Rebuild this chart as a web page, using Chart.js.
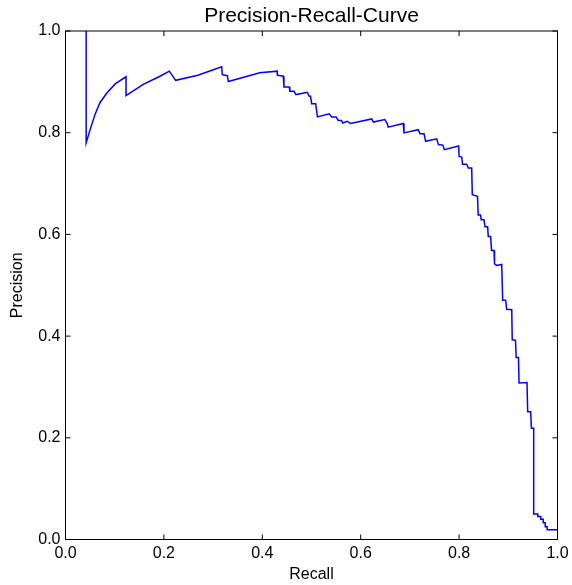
<!DOCTYPE html>
<html>
<head>
<meta charset="utf-8">
<script src="https://cdn.jsdelivr.net/npm/chart.js@4"></script>
<style>
  html, body { margin: 0; padding: 0; background: #fff; }
  #wrap { width: 572px; height: 585px; }
</style>
</head>
<body>
<div id="wrap"><canvas id="pr"></canvas></div>
<script>
// values
const recall = [0.042, 0.042, 0.050, 0.060, 0.070, 0.084, 0.101, 0.123, 0.123, 0.158,
  0.192, 0.211, 0.224, 0.269, 0.3175, 0.3187, 0.329, 0.331, 0.395, 0.4305,
  0.4305, 0.4427, 0.444, 0.455, 0.456, 0.4644, 0.4685, 0.4915, 0.4955, 0.498,
  0.5004, 0.5085, 0.512, 0.536, 0.541, 0.550, 0.5545, 0.561, 0.5634, 0.5728,
  0.5797, 0.6224, 0.6256, 0.649, 0.654, 0.656, 0.6866, 0.688, 0.717, 0.7205,
  0.7287, 0.732, 0.7545, 0.758, 0.767, 0.770, 0.799, 0.800, 0.8053, 0.807,
  0.8154, 0.8187, 0.8256, 0.8268, 0.8374, 0.8388, 0.8435, 0.845, 0.8506, 0.8527,
  0.858, 0.8593, 0.864, 0.866, 0.871, 0.872, 0.8764, 0.8866, 0.8886, 0.8947,
  0.8967, 0.907, 0.908, 0.9146, 0.916, 0.9207, 0.9218, 0.938, 0.9394, 0.9455,
  0.947, 0.9516, 0.9516, 0.960, 0.960, 0.966, 0.966, 0.971, 0.971, 0.975,
  0.975, 0.979, 0.979, 1.0];
const precision = [1.0, 0.780, 0.806, 0.836, 0.859, 0.878, 0.896, 0.910, 0.873, 0.895,
  0.911, 0.921, 0.903, 0.913, 0.9295, 0.914, 0.912, 0.9006, 0.918, 0.921,
  0.913, 0.911, 0.890, 0.890, 0.8815, 0.8815, 0.875, 0.8795, 0.8717, 0.8717,
  0.857, 0.857, 0.831, 0.837, 0.831, 0.831, 0.824, 0.824, 0.819, 0.8225,
  0.818, 0.827, 0.821, 0.826, 0.818, 0.811, 0.818, 0.7996, 0.806, 0.798,
  0.798, 0.783, 0.788, 0.7766, 0.7756, 0.7667, 0.774, 0.7535, 0.752, 0.738,
  0.738, 0.7307, 0.7307, 0.678, 0.675, 0.638, 0.638, 0.629, 0.629, 0.615,
  0.615, 0.596, 0.596, 0.5685, 0.5685, 0.542, 0.539, 0.541, 0.4705, 0.4705,
  0.4528, 0.4518, 0.3927, 0.3917, 0.358, 0.358, 0.308, 0.3087, 0.251, 0.251,
  0.219, 0.219, 0.050, 0.050, 0.045, 0.045, 0.040, 0.040, 0.033, 0.033,
  0.025, 0.025, 0.019, 0.019];
const tickValues = [0, 0.2, 0.4, 0.6, 0.8, 1.0];

const titleText = 'Precision-Recall-Curve';
const xLabel = 'Recall';
const yLabel = 'Precision';

const points = recall.map((r, i) => ({x: r, y: precision[i]}));

// box round the plot and inward ticks on all four sides
const framePlugin = {
  id: 'frame',
  afterDraw(chart) {
    const {ctx, chartArea: a, scales} = chart;
    ctx.save();
    ctx.strokeStyle = '#000';
    ctx.lineWidth = 1;
    ctx.strokeRect(a.left, a.top, a.right - a.left, a.bottom - a.top);
    const len = 5;
    ctx.beginPath();
    tickValues.forEach(v => {
      const x = scales.x.getPixelForValue(v);
      ctx.moveTo(x, a.bottom); ctx.lineTo(x, a.bottom - len);
      ctx.moveTo(x, a.top); ctx.lineTo(x, a.top + len);
      const y = scales.y.getPixelForValue(v);
      ctx.moveTo(a.left, y); ctx.lineTo(a.left + len, y);
      ctx.moveTo(a.right, y); ctx.lineTo(a.right - len, y);
    });
    ctx.stroke();
    ctx.restore();
  }
};

Chart.defaults.font.family = '"Liberation Sans", Arial, sans-serif';
Chart.defaults.color = '#000';

new Chart(document.getElementById('pr'), {
  type: 'scatter',
  data: {
    datasets: [{
      data: points,
      showLine: true,
      borderColor: '#0000ff',
      borderWidth: 1.5,
      pointRadius: 0,
      pointHoverRadius: 0,
      tension: 0,
      fill: false
    }]
  },
  options: {
    responsive: true,
    maintainAspectRatio: false,
    animation: false,
    layout: { padding: { left: 0, right: 14.5, top: 0, bottom: 0 } },
    plugins: {
      legend: { display: false },
      tooltip: { enabled: false },
      title: {
        display: true,
        text: titleText,
        fullSize: false,
        font: { size: 21, weight: 'normal', lineHeight: 1 },
        padding: { top: 6, bottom: 4 }
      }
    },
    scales: {
      x: {
        type: 'linear',
        min: 0, max: 1,
        afterBuildTicks: s => { s.ticks = tickValues.map(v => ({value: v})); },
        ticks: {
          font: { size: 16 },
          padding: 4,
          maxRotation: 0,
          callback: v => v.toFixed(1)
        },
        grid: { display: false, drawTicks: false },
        border: { display: false },
        title: {
          display: true, text: xLabel,
          font: { size: 16, lineHeight: 1.2 },
          padding: { top: 0, bottom: 1 }
        },
        afterFit: s => { s.height = 45.5; s.paddingLeft = 0; s.paddingRight = 0; }
      },
      y: {
        type: 'linear',
        min: 0, max: 1,
        afterBuildTicks: s => { s.ticks = tickValues.map(v => ({value: v})); },
        ticks: {
          font: { size: 16 },
          padding: 5,
          callback: v => v.toFixed(1)
        },
        grid: { display: false, drawTicks: false },
        border: { display: false },
        title: {
          display: true, text: yLabel,
          font: { size: 16, lineHeight: 1.2 },
          padding: { top: 8, bottom: 0 }
        },
        afterFit: s => { s.width = 65.5; s.paddingTop = 0; s.paddingBottom = 0; }
      }
    }
  },
  plugins: [framePlugin]
});
</script>
</body>
</html>
